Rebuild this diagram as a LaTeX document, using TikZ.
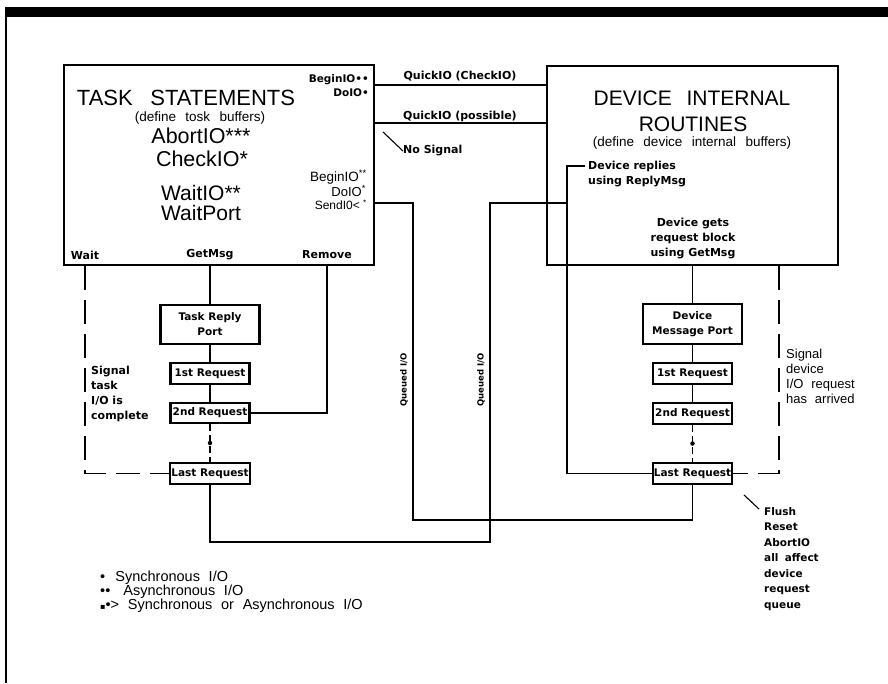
\documentclass[tikz,border=0pt]{standalone}
\usepackage{fontspec}
\setmainfont{Liberation Sans}
\newfontfamily\stf{DejaVu Sans}
\usetikzlibrary{calc}
\newcommand\fsz[2]{\fontsize{#1}{#2}\selectfont}
\newcommand\wsp{\hspace{0.6em}}
\tikzset{
  box/.style={draw, line width=2.3pt, inner sep=0pt, align=center, font=\stf\bfseries\fsz{10.5}{15}},
  lbl/.style={inner sep=0pt},
  stl/.style={inner sep=0pt, font=\stf\bfseries\fsz{11}{15}},
  conn/.style={line width=1.6pt},
  dsh/.style={line width=1.3pt, dash pattern=on 24pt off 10pt},
  dshdot/.style={line width=1.6pt, dash pattern=on 7pt off 4pt},
  blob/.style={circle, fill=black, inner sep=0pt, minimum size=4.5pt},
  ptr/.style={line width=1.1pt}
}
\begin{document}
\begin{tikzpicture}[x=1pt,y=-1pt]
\useasboundingbox (0,0) rectangle (888,683);
% frame
\fill[black] (5,7) rectangle (888,17);
\draw[line width=1.5pt] (6,17) -- (6,683);

% main boxes
\node[box, minimum width=310pt, minimum height=200pt] (task) at (219,165) {};
\node[box, minimum width=291pt, minimum height=199pt] (dev) at (692.5,165.5) {};

% task box texts
\node[lbl, font=\fsz{22}{25}] (tasktitle) at (186,98) {TASK\hspace{0.8em}STATEMENTS};
\node[lbl, font=\fsz{13.5}{14}] (taskdef) at (200,118) {(define\hspace{0.7em}tosk\hspace{0.7em}buffers)};
\node[lbl, font=\fsz{21.5}{24}] (abort) at (201,136) {AbortIO***};
\node[lbl, font=\fsz{21.5}{24}] (check) at (202,159) {CheckIO*};
\node[lbl, font=\fsz{21}{24}] (waitio) at (201,193) {WaitIO**};
\node[lbl, font=\fsz{21}{24}] (waitport) at (201,213) {WaitPort};
\node[stl, font=\stf\bfseries\fsz{10.5}{11}, anchor=east] (bio1) at (369,80) {BeginIO••};
\node[stl, font=\stf\bfseries\fsz{10.5}{11}, anchor=east] (doio1) at (369,93) {DoIO•};
\node[lbl, font=\fsz{13.5}{14}, anchor=east] (bio2) at (367,177) {BeginIO\textsuperscript{**}};
\node[lbl, font=\fsz{13}{14}, anchor=east] (doio2) at (366,191) {DoIO\textsuperscript{*}};
\node[lbl, font=\fsz{12}{13}, anchor=east] (send) at (367,205) {SendI0< \textsuperscript{*}};
\node[stl] (wait) at (85,255) {Wait};
\node[stl] (getmsg) at (210,255) {GetMsg};
\node[stl] (remove) at (327,255) {Remove};

% device box texts
\node[lbl, font=\fsz{21}{25}] (devt1) at (692,98) {DEVICE\hspace{0.7em}INTERNAL};
\node[lbl, font=\fsz{21}{25}] (devt2) at (693,124) {ROUTINES};
\node[lbl, font=\fsz{13.5}{14}] (devdef) at (692,143) {(define\hspace{0.7em}device\hspace{0.7em}internal\hspace{0.7em}buffers)};
\node[stl, align=left, anchor=west] (reply) at (588,174) {Device replies\\using ReplyMsg};
\node[stl, align=center] (gets) at (693,239) {Device gets\\request block\\using GetMsg};

% QuickIO links
\coordinate (yq1) at (0,85);
\coordinate (yq2) at (0,123);
\draw[conn] (task.east |- yq1) -- (dev.west |- yq1);
\draw[conn] (task.east |- yq2) -- (dev.west |- yq2);
\node[stl] (ql1) at (460,76) {QuickIO (CheckIO)};
\node[stl] (ql2) at (460,116) {QuickIO (possible)};
\node[stl, anchor=west] (nosig) at (403,151) {No Signal};
\coordinate (ns0) at (383,132);
\draw[ptr] (ns0) -- (nosig.west);

% task-side stack
\node[box, minimum width=99pt, minimum height=39pt] (trp) at (210,324.5) {Task Reply\\Port};
\node[box, minimum width=79pt, minimum height=21pt] (t1) at (210,373.5) {1st Request};
\node[box, minimum width=79pt, minimum height=20pt] (t2) at (210,413) {2nd Request};
\node[box, minimum width=80pt, minimum height=21pt] (tl) at (210,473.5) {Last Request};
\draw[conn] (trp.north |- task.south) -- (trp.north);
\draw[conn] (trp) -- (t1);
\draw[conn] (t1) -- (t2);
\draw[dshdot] (t2) -- (tl) node[blob, midway] (tdot) {};
\draw[conn] (task.south -| remove) |- (t2.east);
\draw[dsh] (task.south -| wait) |- (tl.west);
\node[stl, align=left, anchor=north west] (sigtask) at (91,366) {Signal\\task\\I/O is\\complete};

% device-side stack
\node[box, minimum width=99pt, minimum height=40pt] (dmp) at (692.5,324) {Device\\Message Port};
\node[box, minimum width=79pt, minimum height=21pt] (d1) at (692.5,373.5) {1st Request};
\node[box, minimum width=79pt, minimum height=21pt] (d2) at (692.5,413.5) {2nd Request};
\node[box, minimum width=79pt, minimum height=21pt] (dl) at (692.5,473.5) {Last Request};
\draw[conn] (dmp.north |- dev.south) -- (dmp.north);
\draw[conn] (dmp) -- (d1);
\draw[conn] (d1) -- (d2);
\draw[dshdot] (d2) -- (dl) node[blob, midway] (ddot) {};
\coordinate (xd) at (779,0);
\draw[dsh] (dev.south -| xd) |- (dl.east);
\node[lbl, font=\fsz{13}{15}, align=left, anchor=north west] (sigdev) at (786,349) {Signal\\device\\I/O\wsp request\\has\wsp arrived};

% device replies
\coordinate (rp) at (585,166);
\coordinate (xr) at (567,0);
\draw[conn] (rp) -| (xr |- dl.west) -- (dl.west);

% queued I/O lines
\coordinate (ys) at (0,203);
\coordinate (xq1) at (413,0);
\coordinate (yb1) at (0,520);
\coordinate (xq2) at (490,0);
\coordinate (yb2) at (0,542);
\draw[conn] (task.east |- ys) -| (xq1 |- yb1) -| (dl.south);
\draw[conn] (tl.south) |- (xq2 |- yb2) |- (xr |- ys);
\node[stl, font=\stf\bfseries\fsz{8.5}{10}, rotate=90] (qio1) at (404,380) {Queued I/O};
\node[stl, font=\stf\bfseries\fsz{8.5}{10}, rotate=90] (qio2) at (481,380) {Queued I/O};

% flush note
\node[stl, align=left, anchor=north west, font=\stf\bfseries\fsz{10.5}{15.5}] (flush) at (764,507) {Flush\\Reset\\AbortIO\\all\wsp affect\\device\\request\\queue};
\coordinate (fl0) at (744,495);
\coordinate (fl1) at (759,509);
\draw[ptr] (fl0) -- (fl1);

% legend
\node[lbl, font=\fsz{14.5}{15}, anchor=west] (leg1) at (100,578) {•\hspace{0.7em}Synchronous\wsp I/O};
\node[lbl, font=\fsz{14.5}{15}, anchor=west] (leg2) at (100,592) {••\hspace{0.9em}Asynchronous\wsp I/O};
\node[lbl, font=\fsz{14.5}{15}, anchor=west] (leg3) at (100,606) {{\stf\fsz{8}{10}▪}•>\hspace{0.6em}Synchronous\wsp or\wsp Asynchronous\wsp I/O};
\end{tikzpicture}
\end{document}
